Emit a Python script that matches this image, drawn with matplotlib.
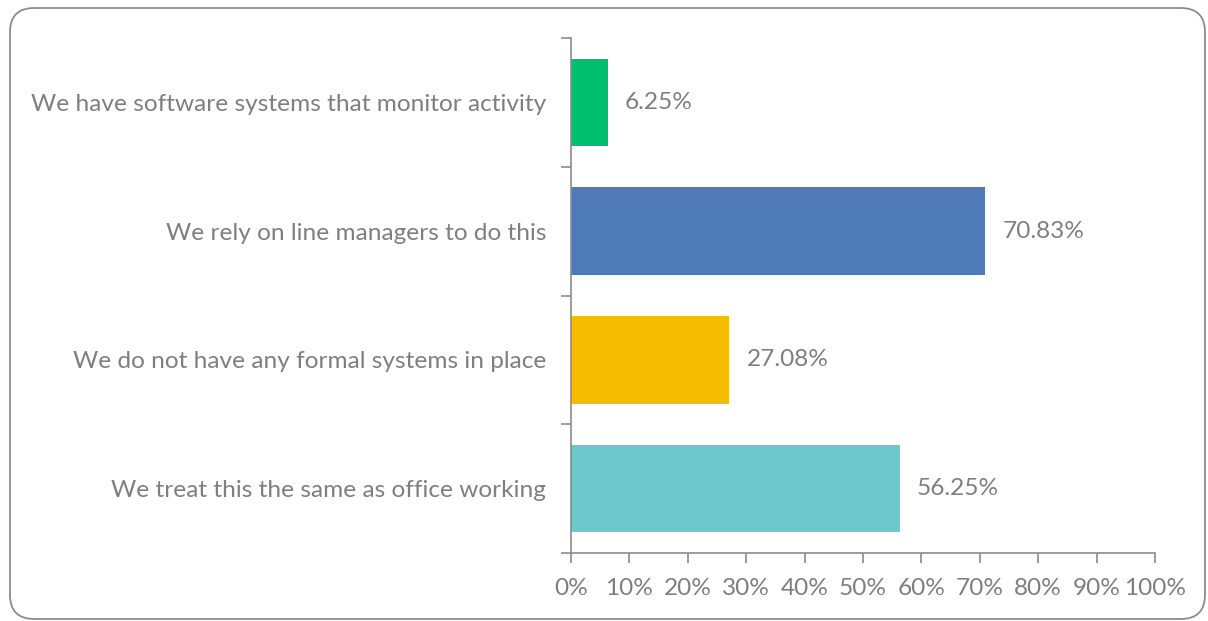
import matplotlib
matplotlib.use('Agg')
import matplotlib.pyplot as plt
from matplotlib.patches import FancyBboxPatch
import numpy as np

categories = [
    "We have software systems that monitor activity",
    "We rely on line managers to do this",
    "We do not have any formal systems in place",
    "We treat this the same as office working",
]
values = [6.25, 70.83, 27.08, 56.25]
colors = ["#00BF6F", "#4E7AB5", "#F5BD00", "#6CC8CD"]
x_ticks = list(range(0, 101, 10))

grey = "#7F7F7F"
fs = 17.6
plt.rcParams['font.family'] = ['Lato', 'DejaVu Sans']

fig = plt.figure(figsize=(12.08, 6.21), dpi=100)

# rounded frame around the whole chart
frame = FancyBboxPatch((10 / 1208, 2 / 621), 1195 / 1208, 611 / 621,
                       boxstyle="round,pad=0,rounding_size=0.02",
                       transform=fig.transFigure, fill=False,
                       edgecolor="#8C8C8C", lw=1.3, mutation_aspect=1208 / 621)
fig.patches.append(frame)

ax = fig.add_axes([571 / 1208, 68 / 621, 584 / 1208, 515 / 621])

y = np.arange(len(categories))
ax.barh(y, values, height=0.68, color=colors)
ax.set_ylim(len(categories) - 0.5, -0.5)
ax.set_xlim(0, 100)

for yi, v in zip(y, values):
    ax.text(v + 3, yi, f"{v:.2f}%", va='center', ha='left',
            fontsize=fs, color=grey)

ax.set_xticks(x_ticks)
ax.set_xticklabels([f"{t}%" for t in x_ticks])
ax.set_yticks(y)
ax.set_yticklabels(categories)
ax.tick_params(axis='y', length=0, pad=18, labelsize=fs, labelcolor=grey)
ax.set_yticks(np.arange(-0.5, len(categories), 1), minor=True)
ax.tick_params(axis='y', which='minor', length=7, direction='out', color="#8C8C8C", width=1.2)
ax.tick_params(axis='x', length=7, direction='out', color="#8C8C8C", width=1.2,
               labelsize=fs, labelcolor=grey, pad=11)

for s in ['top', 'right']:
    ax.spines[s].set_visible(False)
for s in ['left', 'bottom']:
    ax.spines[s].set_color("#8C8C8C")
    ax.spines[s].set_linewidth(1.2)

fig.savefig("out.png", dpi=100)
